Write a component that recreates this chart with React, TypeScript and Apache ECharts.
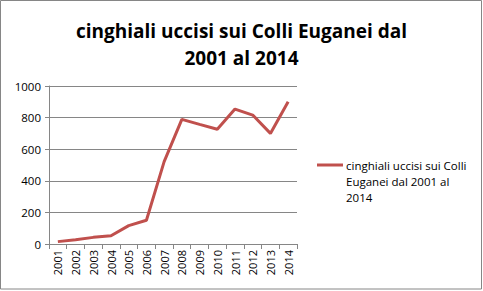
import React, { useEffect, useRef } from "react";
import * as echarts from "echarts";

const categories = ["2001","2002","2003","2004","2005","2006","2007","2008","2009","2010","2011","2012","2013","2014"];
const values = [15, 27, 42, 52, 116, 150, 521, 789, 757, 726, 854, 816, 700, 900];
const seriesName = "cinghiali uccisi sui Colli Euganei dal 2001 al 2014";
const titleText = "cinghiali uccisi sui Colli Euganei dal\n2001 al 2014";
const legendText = "cinghiali uccisi sui Colli\nEuganei dal 2001 al\n2014";
const lineColor = "#C0504D";

export default function App() {
  const ref = useRef<HTMLDivElement>(null);
  useEffect(() => {
    document.body.style.margin = "0";
    const chart = echarts.init(ref.current!, null, { renderer: "svg" });
    const font = "Open Sans, DejaVu Sans, sans-serif";
    chart.setOption({
      animation: false,
      backgroundColor: "#fff",
      title: {
        text: titleText,
        left: "center",
        top: 12,
        textStyle: { fontFamily: font, fontSize: 19, fontWeight: "bold", color: "#000", lineHeight: 27 },
      },
      grid: { left: 49, right: 186, top: 86, bottom: 47 },
      xAxis: {
        type: "category",
        data: categories,
        boundaryGap: true,
        axisLine: { lineStyle: { color: "#868686" } },
        axisTick: { show: true, length: 5, lineStyle: { color: "#868686" } },
        axisLabel: { rotate: 90, fontFamily: font, fontSize: 11, color: "#000", margin: 6, interval: 0 },
      },
      yAxis: {
        type: "value",
        min: 0,
        max: 1000,
        interval: 200,
        axisLine: { show: true, lineStyle: { color: "#868686" } },
        axisTick: { show: true, length: 4, lineStyle: { color: "#868686" } },
        axisLabel: { fontFamily: font, fontSize: 11.5, color: "#000", margin: 8, formatter: (v: number) => String(v) },
        splitLine: { lineStyle: { color: "#868686" } },
      },
      series: [
        {
          name: seriesName,
          type: "line",
          data: values,
          symbol: "none",
          lineStyle: { color: lineColor, width: 3 },
          itemStyle: { color: lineColor },
        },
      ],
      graphic: [
        {
          type: "rect",
          shape: { x: 0.5, y: 0.5, width: 481, height: 288.5 },
          style: { fill: "none", stroke: "#868686", lineWidth: 1 },
          silent: true,
        },
        {
          type: "line",
          shape: { x1: 317, y1: 165, x2: 343, y2: 165 },
          style: { stroke: lineColor, lineWidth: 3 },
          silent: true,
        },
        {
          type: "text",
          x: 346,
          y: 157,
          style: {
            text: legendText,
            fontFamily: font,
            fontSize: 11.5,
            lineHeight: 16,
            fill: "#000",
            textAlign: "left",
            textVerticalAlign: "top",
          },
          silent: true,
        },
      ],
    });
    return () => chart.dispose();
  }, []);
  return <div ref={ref} style={{ position: "absolute", left: 0, top: 0, width: 483, height: 291 }} />;
}
